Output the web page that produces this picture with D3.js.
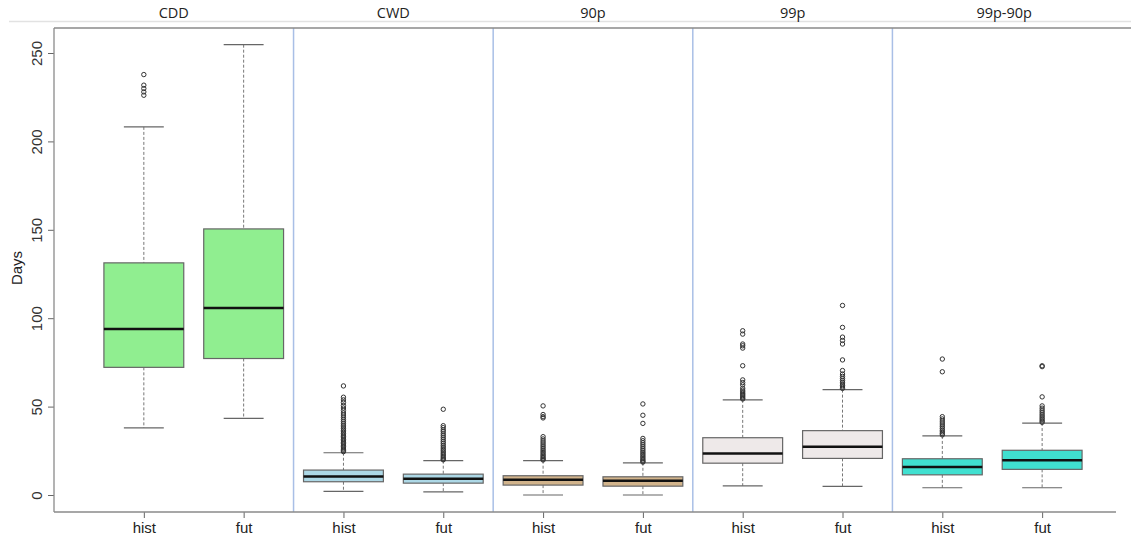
<!DOCTYPE html>
<html>
<head>
<meta charset="utf-8">
<script src="https://cdn.jsdelivr.net/npm/d3@7"></script>
<style>
  body { margin: 0; background: #fff; }
  .tick text { font-family: "Liberation Sans", Arial, sans-serif; }
</style>
</head>
<body>
<div class="chart"></div>
<script>

// chart data
var panels = ["CDD", "CWD", "90p", "99p", "99p-90p"];
var periods = ["hist", "fut"];

// one entry per box, hist/fut for each panel
var lowerWhisker = [38, 43.3, 2, 1.8, 0, 0, 5.2, 4.9, 4.1, 4.1];
var q1 = [72.2, 77.2, 7.5, 6.7, 5.6, 5, 18, 20.7, 11.4, 14.5];
var medians = [93.9, 105.8, 10.5, 9.2, 8.6, 8, 23.5, 27.3, 15.8, 19.6];
var q3 = [131.3, 150.5, 14.1, 11.8, 10.9, 10.3, 32.4, 36.4, 20.5, 25.3];
var upperWhisker = [208.2, 254.7, 23.9, 19.4, 19.4, 18.2, 53.8, 59.6, 33.4, 40.7];

var outliers = [
  [237.8, 231.8, 229.9, 228, 226.1],
  [],
  [61.7, 55.3, 53.8, 52.3, 50.6, 49.2, 47.8, 46.4, 45.2, 44, 42.8, 41.7, 40.6, 39.5, 38.5,
   37.5, 36.6, 35.7, 34.8, 33.9, 33.1, 32.3, 31.4, 30.6, 29.8, 29, 28.2, 27.4, 26.6, 25.9, 25.2, 24.5],
  [48.5, 39.2, 38.1, 36.8, 35.8, 34.6, 33.5, 32.4, 31.3, 30.2, 29.2, 28.1, 27.1, 26.1, 25.2,
   24.3, 23.4, 22.6, 21.8, 21, 20.3, 19.9],
  [50.4, 45.5, 44.3, 43.6, 33, 31.7, 30.5, 29.4, 28.3, 27.3, 26.3, 25.3, 24.4, 23.5, 22.6,
   21.8, 21, 20.3, 19.8],
  [51.5, 45.1, 40.5, 32, 30.7, 29.5, 28.4, 27.3, 26.2, 25.2, 24.2, 23.3, 22.4, 21.5, 20.6,
   19.8, 19.1, 18.6],
  [92.9, 91, 85.4, 84.4, 83.1, 73.1, 65.1, 63.6, 62.3, 60.4, 59.3, 58.4, 57.6, 56.9, 56.2,
   55.5, 54.8, 54.3],
  [107.2, 94.8, 89.3, 87.4, 85.4, 76.4, 70.4, 68.4, 67.1, 65.9, 64.8, 63.8, 62.8, 61.9, 61.1, 60.3],
  [76.9, 69.7, 44.3, 43, 41.8, 40.7, 39.6, 38.6, 37.6, 36.6, 35.7, 34.8, 34],
  [73.1, 72.6, 55.5, 50.4, 49.1, 47.9, 46.8, 45.7, 44.7, 43.7, 42.8, 41.9, 41.1]
];

var yTicks = [0, 50, 100, 150, 200, 250];

// fill colour for each panel
var fills = ["#90ee90", "#add8e6", "#d2b48c", "#eee9e9", "#40e0d0"];

var svgWidth = 1131;
var svgHeight = 538;

var plot = { left: 54, right: 1116, top: 28, bottom: 512 };

var svg = d3
  .select(".chart")
  .append("svg")
  .attr("width", svgWidth)
  .attr("height", svgHeight);

// box positions 1..10, panel borders at 2.5, 4.5 ...
var x = d3.scaleLinear()
  .domain([0.1, 10.74])
  .range([plot.left, plot.right]);

var y = d3.scaleLinear()
  .domain([0, 250])
  .range([495, 53]);

// build the box table
var boxes = medians.map(function(m, i) {
  return {
    pos: i + 1,
    panel: Math.floor(i / 2),
    period: periods[i % 2],
    lo: lowerWhisker[i],
    q1: q1[i],
    med: m,
    q3: q3[i],
    hi: upperWhisker[i],
    out: outliers[i]
  };
});

// header strip line
svg.append("line")
  .attr("x1", 9).attr("x2", svgWidth)
  .attr("y1", 21.5).attr("y2", 21.5)
  .attr("stroke", "#e2e2e2")
  .attr("stroke-width", 1.5);

// panel titles
var borders = [0.1, 2.5, 4.5, 6.5, 8.5, 10.74];
svg.selectAll(".panel-title")
  .data(panels)
  .enter()
  .append("text")
  .attr("class", "panel-title")
  .attr("x", (d, i) => x((borders[i] + borders[i + 1]) / 2))
  .attr("y", 18)
  .attr("text-anchor", "middle")
  .style("font-family", "'Open Sans', 'Noto Sans', sans-serif")
  .style("font-size", "14.5px")
  .style("fill", "#222")
  .text(d => d);

// panel separators
svg.selectAll(".sep")
  .data(borders.slice(1, 5))
  .enter()
  .append("line")
  .attr("x1", d => x(d)).attr("x2", d => x(d))
  .attr("y1", plot.top).attr("y2", plot.bottom)
  .attr("stroke", "#a9bfe6")
  .attr("stroke-width", 1.5);

// frame: top, left, bottom
svg.append("line")
  .attr("x1", plot.left).attr("x2", svgWidth)
  .attr("y1", plot.top).attr("y2", plot.top)
  .attr("stroke", "#8a8a8a").attr("stroke-width", 1.3);

// y axis
var leftAxis = d3.axisLeft(y).tickValues(yTicks).tickSize(6).tickSizeOuter(0);
var yAxis = svg.append("g")
  .attr("transform", `translate(${plot.left}, 0)`)
  .call(leftAxis);
yAxis.select(".domain").remove();
yAxis.append("line")
  .attr("x1", 0).attr("x2", 0)
  .attr("y1", plot.top).attr("y2", plot.bottom)
  .attr("stroke", "#8a8a8a").attr("stroke-width", 1.3);
yAxis.selectAll(".tick line").attr("stroke", "#666");
yAxis.selectAll(".tick text")
  .attr("transform", "rotate(-90)")
  .attr("x", 0)
  .attr("y", -12)
  .attr("dy", 0)
  .attr("text-anchor", "middle")
  .style("font-size", "15px")
  .style("fill", "#333");

// x axis
var bottomAxis = d3.axisBottom(x)
  .tickValues(boxes.map(d => d.pos))
  .tickFormat((d, i) => boxes[i].period)
  .tickSize(6)
  .tickSizeOuter(0);
var xAxis = svg.append("g")
  .attr("transform", `translate(0, ${plot.bottom})`)
  .call(bottomAxis);
xAxis.select(".domain").remove();
xAxis.append("line")
  .attr("x1", plot.left).attr("x2", plot.right)
  .attr("y1", 0).attr("y2", 0)
  .attr("stroke", "#8a8a8a").attr("stroke-width", 1.3);
xAxis.selectAll(".tick line").attr("stroke", "#666");
xAxis.selectAll(".tick text")
  .attr("y", 10)
  .style("font-size", "15px")
  .style("fill", "#222");

// y label
svg.append("text")
  .attr("transform", "rotate(-90)")
  .attr("x", -268)
  .attr("y", 22)
  .attr("text-anchor", "middle")
  .style("font-family", "'Liberation Sans', Arial, sans-serif")
  .style("font-size", "15px")
  .style("fill", "#222")
  .text("Days");

// boxes
var halfBox = 0.4;
var halfCap = 0.2;

var boxGroup = svg.selectAll(".box")
  .data(boxes)
  .enter()
  .append("g")
  .attr("class", "box");

// whiskers (dashed)
boxGroup.append("line")
  .attr("x1", d => x(d.pos)).attr("x2", d => x(d.pos))
  .attr("y1", d => y(d.hi)).attr("y2", d => y(d.q3))
  .attr("stroke", "#777").attr("stroke-dasharray", "3,2");
boxGroup.append("line")
  .attr("x1", d => x(d.pos)).attr("x2", d => x(d.pos))
  .attr("y1", d => y(d.q1)).attr("y2", d => y(d.lo))
  .attr("stroke", "#777").attr("stroke-dasharray", "3,2");

// caps
boxGroup.append("line")
  .attr("x1", d => x(d.pos - halfCap)).attr("x2", d => x(d.pos + halfCap))
  .attr("y1", d => y(d.hi)).attr("y2", d => y(d.hi))
  .attr("stroke", "#666").attr("stroke-width", 1.2);
boxGroup.append("line")
  .attr("x1", d => x(d.pos - halfCap)).attr("x2", d => x(d.pos + halfCap))
  .attr("y1", d => y(d.lo)).attr("y2", d => y(d.lo))
  .attr("stroke", "#666").attr("stroke-width", 1.2);

// box
boxGroup.append("rect")
  .attr("x", d => x(d.pos - halfBox))
  .attr("width", d => x(d.pos + halfBox) - x(d.pos - halfBox))
  .attr("y", d => y(d.q3))
  .attr("height", d => y(d.q1) - y(d.q3))
  .attr("fill", d => fills[d.panel])
  .attr("stroke", "#666")
  .attr("stroke-width", 1.2);

// median
boxGroup.append("line")
  .attr("x1", d => x(d.pos - halfBox)).attr("x2", d => x(d.pos + halfBox))
  .attr("y1", d => y(d.med)).attr("y2", d => y(d.med))
  .attr("stroke", "#111").attr("stroke-width", 2.5);

// outliers
boxGroup.selectAll("circle")
  .data(d => d.out.map(v => ({ pos: d.pos, v: v })))
  .enter()
  .append("circle")
  .attr("cx", d => x(d.pos))
  .attr("cy", d => y(d.v))
  .attr("r", 2.2)
  .attr("fill", "none")
  .attr("stroke", "#333")
  .attr("stroke-width", 1);

</script>
</body>
</html>
